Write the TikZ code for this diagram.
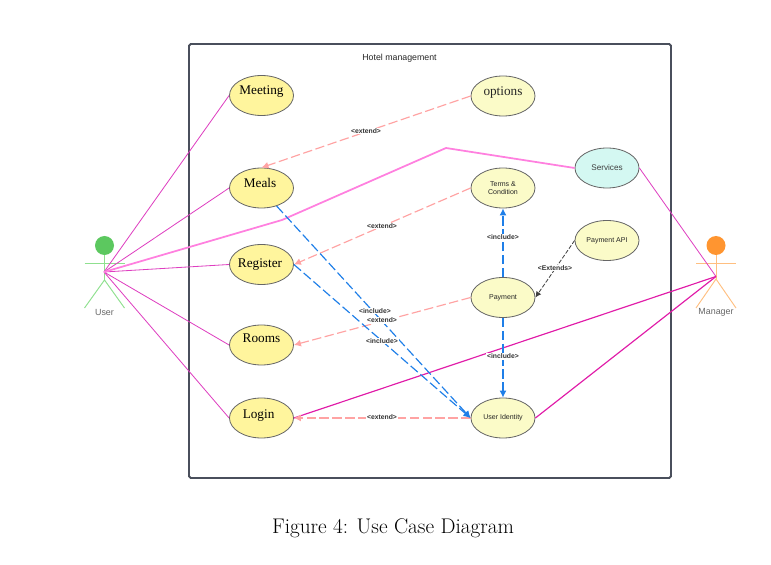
\documentclass[tikz,border=0pt]{standalone}
\usepackage{fontspec}
\setsansfont{Liberation Sans}
\newfontfamily\casefont{Liberation Serif}
\usetikzlibrary{arrows.meta,shapes.geometric}
\definecolor{framegray}{HTML}{4A4F5C}
\definecolor{caseyellow}{HTML}{FFF59D}
\definecolor{casepale}{HTML}{FBFBC8}
\definecolor{casecyan}{HTML}{D4F8F2}
\definecolor{linemagenta}{HTML}{DE3FC0}
\definecolor{linedeep}{HTML}{E01CA8}
\definecolor{linepink}{HTML}{FF80DF}
\definecolor{extendpink}{HTML}{FFA3A3}
\definecolor{includeblue}{HTML}{1F7FE8}
\definecolor{usergreen}{HTML}{5CC85F}
\definecolor{userlimb}{HTML}{8FE08F}
\definecolor{managerorange}{HTML}{FF9530}
\definecolor{managerlimb}{HTML}{FFBF80}
% text offset inside an ellipse: kern, raise, text
\newcommand{\lifted}[3]{\raisebox{#2}[0pt][0pt]{\makebox[0pt]{\kern#1\relax #3}}}
\tikzset{
  usecase/.style={ellipse,draw=black!60,line width=0.7pt,inner sep=0pt,
    minimum width=1.92cm,minimum height=1.2cm,align=center},
  leftcase/.style={usecase,fill=caseyellow,font=\casefont\fontsize{11.3}{13}\selectfont},
  rightcase/.style={usecase,fill=casepale,font=\sffamily\fontsize{6}{7.5}\selectfont,text=black!85},
  edgetext/.style={fill=white,inner sep=0.6pt,text=black!80,font=\sffamily\bfseries\fontsize{5.8}{7}\selectfont},
  actortext/.style={text=black!60,font=\sffamily\fontsize{7.6}{9}\selectfont},
  extendline/.style={extendpink,line width=1pt,dash pattern=on 8pt off 3pt,-{Latex[length=6pt,width=6pt]}},
  includeline/.style={includeblue,line width=1pt,dash pattern=on 8pt off 3pt,-{Latex[length=6pt,width=6pt]}},
  actorline/.style={linemagenta,line width=0.7pt},
  managerline/.style={linedeep,line width=1pt}
}
\begin{document}
\begin{tikzpicture}[x=0.03cm,y=-0.03cm]
  \useasboundingbox (0,0) rectangle (771,565);

  % Outer system frame
  \draw [framegray,line width=1.7pt,rounded corners=1.5pt] (189,44) rectangle (671,478);
  \node [font=\sffamily\fontsize{7.5}{9}\selectfont,text=black!85] (title) at (399.5,58) {Hotel management};

  % Use cases on the left
  \node [leftcase] (meeting) at (261.5,95.5) {\lifted{0pt}{1pt}{Meeting}};
  \node [leftcase] (meals) at (261.5,188) {\lifted{-2.5pt}{0pt}{Meals}};
  \node [leftcase] (register) at (261.5,264.5) {\lifted{-2.5pt}{-2.3pt}{Register}};
  \node [leftcase] (rooms) at (261.5,345) {\lifted{0pt}{2.3pt}{Rooms}};
  \node [leftcase] (login) at (261.5,418) {\lifted{-5pt}{0pt}{Login}};

  % Use cases on the right
  \node [rightcase,font=\casefont\fontsize{11.3}{13}\selectfont] (options) at (503,96) {\lifted{0pt}{0pt}{options}};
  \node [rightcase] (terms) at (503,188) {Terms \&\\Condition};
  \node [rightcase] (payment) at (503,297.5) {Payment};
  \node [rightcase] (identity) at (503,418) {User Identity};
  \node [rightcase] (paymentapi) at (607,240.5) {Payment API};
  \node [usecase,fill=casecyan,text=black!75,font=\sffamily\fontsize{7}{8}\selectfont] (services) at (607,168) {Services};

  % Actor User
  \node [circle,fill=usergreen,inner sep=0pt,minimum size=0.57cm] (userhead) at (104.5,245.5) {};
  \coordinate (userhub) at (104,272);
  \coordinate (userhip) at (104.5,280);
  \draw [userlimb,line width=0.8pt] (userhead) -- (userhip);
  \draw [userlimb,line width=0.8pt] (84.5,263) -- (124.5,263);
  \draw [userlimb,line width=0.8pt] (84.5,308) -- (userhip) -- (124.5,308);
  \node [actortext] (usertext) at (104.5,312.5) {User};

  % Actor Manager
  \node [circle,fill=managerorange,inner sep=0pt,minimum size=0.57cm] (managerhead) at (716,245.5) {};
  \coordinate (managerhub) at (716,276.5);
  \coordinate (managerhip) at (716,279);
  \draw [managerlimb,line width=0.8pt] (managerhead) -- (managerhip);
  \draw [managerlimb,line width=0.8pt] (696,263) -- (736,263);
  \draw [managerlimb,line width=0.8pt] (696,308) -- (managerhip) -- (736,308);
  \node [actortext] (managertext) at (716,312.5) {Manager};

  % Lines from User
  \draw [actorline] (userhub) -- (meeting.west);
  \draw [actorline] (userhub) -- (meals.west);
  \draw [actorline] (userhub) -- (register.west);
  \draw [actorline] (userhub) -- (rooms.west);
  \draw [actorline] (userhub) -- (login.west);
  \draw [linepink,line width=1.5pt] (userhub) -- (282,220) -- (446,148) -- (services.west);

  % Lines from Manager
  \draw [actorline] (managerhub) -- (services.east);
  \draw [managerline] (managerhub) -- (login.east);
  \draw [managerline] (managerhub) -- (identity.east);

  % Dashed extend lines
  \draw [extendline] (options.west) -- (meals.north);
  \draw [extendline] (terms.west) -- (register.east);
  \draw [extendline] (payment.west) -- (rooms.east);
  \draw [extendline] (identity.west) -- (login.east);
  \draw [black!75,line width=0.7pt,dash pattern=on 3.5pt off 1.5pt,-{Latex[length=5pt,width=5pt]}] (paymentapi.west) -- (payment.east);

  % Dashed include lines
  \draw [includeline] (meals.-50) -- (identity.west);
  \draw [includeline] (register.east) -- (identity.west);
  \draw [includeline] (payment.north) -- (terms.south);
  \draw [includeline] (payment.south) -- (identity.north);

  % Line labels
  \node [edgetext] (extendone) at (366,131) {<extend>};
  \node [edgetext] (extendtwo) at (382,226) {<extend>};
  \node [edgetext] (includeone) at (375,311) {<include>};
  \node [edgetext] (extendthree) at (382,320.5) {<extend>};
  \node [edgetext] (includetwo) at (382,341) {<include>};
  \node [edgetext] (extendfour) at (382,417) {<extend>};
  \node [edgetext] (includethree) at (503,237) {<include>};
  \node [edgetext] (includefour) at (503,356.5) {<include>};
  \node [edgetext] (extendsapi) at (555,268) {<Extends>};

  % Caption
  \node [font=\fontsize{18.1}{21}\selectfont] (caption) at (393,528) {Figure 4: Use Case Diagram};
\end{tikzpicture}
\end{document}
